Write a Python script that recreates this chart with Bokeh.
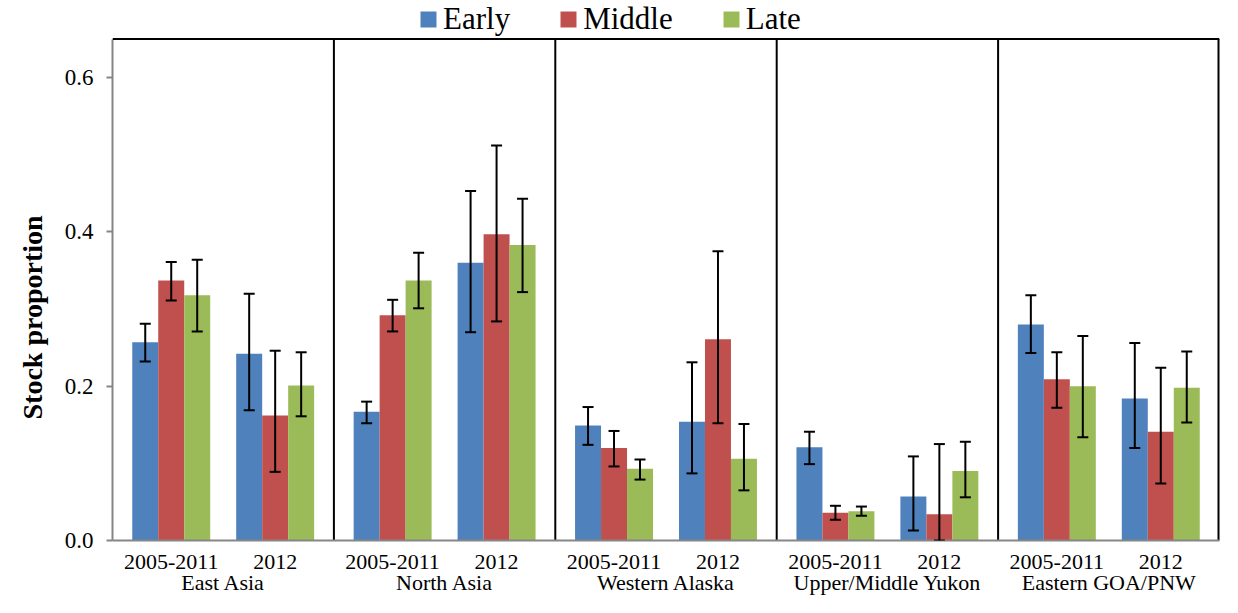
from bokeh.plotting import figure
from bokeh.models import (FactorRange, ColumnDataSource, Whisker, TeeHead, Legend,
                          LegendItem, FixedTicker, NumeralTickFormatter, Range1d,
                          CategoricalAxis, Span, Title)
from bokeh.transform import dodge
from bokeh.embed import file_html
from bokeh.resources import INLINE

regions = ["East Asia", "North Asia", "Western Alaska", "Upper/Middle Yukon", "Eastern GOA/PNW"]
periods = ["2005-2011", "2012"]
y_ticks = [0.0, 0.2, 0.4, 0.6]
y_top = 0.65

# order: (region, period) for each region, each period
early    = [0.257, 0.242, 0.167, 0.360, 0.149, 0.154, 0.121, 0.057, 0.280, 0.184]
early_lo = [0.232, 0.169, 0.152, 0.270, 0.124, 0.087, 0.099, 0.013, 0.243, 0.120]
early_hi = [0.281, 0.320, 0.180, 0.453, 0.173, 0.231, 0.141, 0.109, 0.318, 0.256]

middle    = [0.337, 0.162, 0.292, 0.397, 0.120, 0.261, 0.036, 0.034, 0.209, 0.141]
middle_lo = [0.311, 0.089, 0.271, 0.284, 0.096, 0.152, 0.027, 0.000, 0.172, 0.074]
middle_hi = [0.361, 0.246, 0.312, 0.512, 0.142, 0.375, 0.045, 0.125, 0.244, 0.224]

late    = [0.318, 0.201, 0.337, 0.383, 0.093, 0.106, 0.038, 0.090, 0.200, 0.198]
late_lo = [0.271, 0.161, 0.301, 0.322, 0.079, 0.065, 0.032, 0.056, 0.134, 0.153]
late_hi = [0.364, 0.244, 0.373, 0.443, 0.105, 0.151, 0.044, 0.128, 0.265, 0.245]

factors = [(r, pr) for r in regions for pr in periods]

GP = 0.13
x_range = FactorRange(*factors, factor_padding=0.0, group_padding=GP,
                      range_padding=GP / 2, range_padding_units="absolute")

# the view extends a little above y_top to leave room for the legend
p = figure(x_range=x_range, y_range=Range1d(0, 0.70), width=1222, height=597,
           output_backend="svg", toolbar_location=None,
           min_border_left=110, min_border_right=3, min_border_top=0, min_border_bottom=10)
p.extra_x_ranges = {"regions": FactorRange(*regions, factor_padding=0.0, range_padding=0.0)}

src = ColumnDataSource(dict(x=factors, early=early, early_lo=early_lo, early_hi=early_hi,
                            middle=middle, middle_lo=middle_lo, middle_hi=middle_hi,
                            late=late, late_lo=late_lo, late_hi=late_hi))

series = [("Early", "early", -0.25, "#4F81BD"),
          ("Middle", "middle", 0.0, "#C0504D"),
          ("Late", "late", 0.25, "#9BBB59")]

# separators between regions and right-hand border
sep_src = ColumnDataSource(dict(x=[(r, periods[0]) for r in regions[1:]],
                                y0=[0.0] * (len(regions) - 1),
                                y1=[y_top] * (len(regions) - 1)))
p.segment(x0=dodge("x", -(0.5 + GP / 2), range=p.x_range), y0="y0",
          x1=dodge("x", -(0.5 + GP / 2), range=p.x_range), y1="y1",
          source=sep_src, line_color="black", line_width=2)
edge_src = ColumnDataSource(dict(x=[factors[-1]], y0=[0.0], y1=[y_top]))
p.segment(x0=dodge("x", 0.5 + GP / 2, range=p.x_range), y0="y0",
          x1=dodge("x", 0.5 + GP / 2, range=p.x_range), y1="y1",
          source=edge_src, line_color="black", line_width=4)
p.add_layout(Span(location=y_top, dimension="width", line_color="black", line_width=2))

items = []
for label, key, off, color in series:
    r = p.vbar(x=dodge("x", off, range=p.x_range), top=key, width=0.25, source=src,
               fill_color=color, line_color=None)
    items.append(LegendItem(label=label, renderers=[r]))
    w = Whisker(base=dodge("x", off, range=p.x_range), upper=key + "_hi", lower=key + "_lo",
                source=src, line_color="black", line_width=2, level="annotation",
                upper_head=TeeHead(size=11, line_color="black", line_width=2),
                lower_head=TeeHead(size=11, line_color="black", line_width=2))
    p.add_layout(w)

legend = Legend(items=items, orientation="horizontal", location=(306, 503),
                glyph_width=20, glyph_height=20, label_standoff=5, spacing=48,
                padding=0, margin=0, border_line_color=None, background_fill_alpha=0,
                label_text_font="Liberation Serif", label_text_font_size="31px",
                label_text_color="black")
p.add_layout(legend)

p.xgrid.visible = False
p.ygrid.visible = False
p.outline_line_color = None

ax = p.xaxis[0]
ax.axis_line_color = "#868686"
ax.axis_line_width = 2
ax.major_tick_line_color = None
ax.minor_tick_line_color = None
ax.major_label_text_font = "Liberation Serif"
ax.major_label_text_font_size = "22px"
ax.major_label_text_color = "black"
ax.major_label_standoff = 8
ax.group_text_font_size = "1px"
ax.group_text_alpha = 0
ax.separator_line_color = None

ax2 = CategoricalAxis(x_range_name="regions")
ax2.axis_line_color = None
ax2.major_tick_line_color = None
ax2.minor_tick_line_color = None
ax2.major_label_text_font = "Liberation Serif"
ax2.major_label_text_font_size = "22px"
ax2.major_label_text_color = "black"
ax2.major_label_standoff = -8
p.add_layout(ax2, "below")

ay = p.yaxis[0]
ay.bounds = (0, y_top)
ay.ticker = FixedTicker(ticks=y_ticks)
ay.formatter = NumeralTickFormatter(format="0.0")
ay.axis_line_color = "#868686"
ay.axis_line_width = 2
ay.major_tick_line_color = "#868686"
ay.major_tick_line_width = 2
ay.major_tick_out = 6
ay.major_tick_in = 0
ay.minor_tick_line_color = None
ay.major_label_text_font = "Liberation Serif"
ay.major_label_text_font_size = "23px"
ay.major_label_text_color = "black"
ay.major_label_standoff = 13

ytitle = Title(text="Stock proportion", align="left", offset=121, standoff=28,
               text_font="Liberation Serif", text_font_size="28px",
               text_font_style="bold", text_color="black")
p.add_layout(ytitle, "left")

open("out.html", "w").write(file_html(p, INLINE))
